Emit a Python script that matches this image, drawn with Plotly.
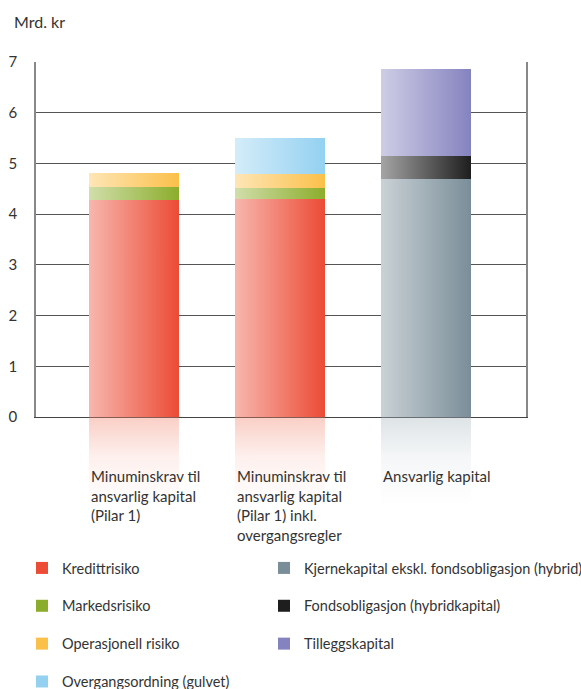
import plotly.graph_objects as go

# ---- data ----
categories = ["Pilar 1", "Pilar 1 inkl. overgangsregler", "Ansvarlig kapital"]
category_labels = [
    "Minuminskrav til<br>ansvarlig kapital<br>(Pilar 1)",
    "Minuminskrav til<br>ansvarlig kapital<br>(Pilar 1) inkl.<br>overgangsregler",
    "Ansvarlig kapital",
]
kredittrisiko = [4.28, 4.29, None]
markedsrisiko = [0.26, 0.23, None]
operasjonell_risiko = [0.27, 0.28, None]
overgangsordning = [None, 0.70, None]
kjernekapital = [None, None, 4.69]
fondsobligasjon = [None, None, 0.46]
tilleggskapital = [None, None, 1.71]
y_ticks = [0, 1, 2, 3, 4, 5, 6, 7]

FONT = "Lato"
TXT = "#333333"
BAR_W = 0.616

# (name, values, right-edge colour of the gradient)
left_series = [
    ("Kredittrisiko", kredittrisiko, "#EC4B35"),
    ("Markedsrisiko", markedsrisiko, "#8CAD2C"),
    ("Operasjonell risiko", operasjonell_risiko, "#FBC04A"),
    ("Overgangsordning (gulvet)", overgangsordning, "#94D1F1"),
]
right_series = [
    ("Kjernekapital ekskl. fondsobligasjon (hybrid)", kjernekapital, "#7A8E99"),
    ("Fondsobligasjon (hybridkapital)", fondsobligasjon, "#1E1E1E"),
    ("Tilleggskapital", tilleggskapital, "#8583BF"),
]
reflection_rgb = ["242,128,105", "242,128,105", "166,181,189"]

x_pos = list(range(len(categories)))

# layout geometry (pixels)
W, H = 581, 689
M_L, M_R, M_T = 36, 55, 62
PLOT_H = 355
REFL_H = 88
M_B = H - M_T - PLOT_H - REFL_H
PAPER_W = W - M_L - M_R
PAPER_H = H - M_T - M_B
split = REFL_H / PAPER_H


def px_x(px):
    return (px - M_L) / PAPER_W


def px_y(px):
    return (H - M_B - px) / PAPER_H


fig = go.Figure()
for legend_name, series in (("legend", left_series), ("legend2", right_series)):
    for name, vals, col in series:
        fig.add_trace(go.Bar(
            x=x_pos, y=vals, name=name, width=BAR_W,
            marker=dict(color=col, line=dict(width=0)),
            legend=legend_name, legendgroup=name,
            hovertext=categories,
        ))

# horizontal light-to-dark shading over each bar (white overlay fading out)
all_series = left_series + right_series
for i in x_pos:
    top = sum(v[i] for _, v, _ in all_series if v[i] is not None)
    x0, x1 = x_pos[i] - BAR_W / 2, x_pos[i] + BAR_W / 2
    fig.add_trace(go.Scatter(
        x=[x0, x1, x1, x0, x0], y=[0, 0, top, top, 0],
        mode="lines", fill="toself", line=dict(width=0, color="rgba(0,0,0,0)"),
        fillgradient=dict(type="horizontal", colorscale=[
            [0, "rgba(255,255,255,0.6)"], [1, "rgba(255,255,255,0)"]]),
        showlegend=False, hoverinfo="skip",
    ))
    # faded reflection below the base line
    fig.add_trace(go.Scatter(
        x=[x0, x1, x1, x0, x0], y=[0, 0, -1, -1, 0], yaxis="y2",
        mode="lines", fill="toself", line=dict(width=0, color="rgba(0,0,0,0)"),
        fillgradient=dict(type="vertical", colorscale=[
            [0, f"rgba({reflection_rgb[i]},0)"],
            [0.55, f"rgba({reflection_rgb[i]},0.12)"],
            [1, f"rgba({reflection_rgb[i]},0.38)"]]),
        showlegend=False, hoverinfo="skip",
    ))

for i, lab in enumerate(category_labels):
    fig.add_annotation(
        x=x_pos[i] - BAR_W / 2, xref="x", xanchor="left",
        y=px_y(465), yref="paper", yanchor="top",
        text=lab, showarrow=False, align="left",
        font=dict(family=FONT, size=15, color=TXT),
    )

fig.add_annotation(
    x=px_x(12), xref="paper", xanchor="left",
    y=px_y(21), yref="paper", yanchor="middle",
    text="Mrd. kr", showarrow=False,
    font=dict(family=FONT, size=16, color=TXT),
)

legend_common = dict(
    orientation="v", traceorder="grouped", tracegroupgap=16,
    font=dict(family=FONT, size=14.5, color=TXT),
    bgcolor="rgba(0,0,0,0)", yanchor="top", xanchor="left",
)

fig.update_layout(
    width=W, height=H,
    margin=dict(l=M_L, r=M_R, t=M_T, b=M_B, autoexpand=False),
    paper_bgcolor="white", plot_bgcolor="white",
    barmode="stack", bargap=0,
    font=dict(family=FONT, size=14, color=TXT),
    legend=dict(x=px_x(22), y=px_y(552), **legend_common),
    legend2=dict(x=px_x(264), y=px_y(552), **legend_common),
    xaxis=dict(
        range=[-0.671, 2.685], showticklabels=False, showgrid=False,
        zeroline=False, showline=True, linecolor="#444444", linewidth=1,
        ticks="",
    ),
    yaxis=dict(
        domain=[split, 1],
        range=[0, 7], tickvals=y_ticks, showgrid=True, gridcolor="#555555",
        gridwidth=1, zeroline=False, showline=True, mirror=True,
        linecolor="#888888", linewidth=1.5, ticks="",
        ticklabelstandoff=14,
        tickfont=dict(family=FONT, size=15, color=TXT),
    ),
    yaxis2=dict(
        domain=[0, split], range=[-1, 0], visible=False, fixedrange=True,
        anchor="x",
    ),
    showlegend=True,
)

fig.write_html("out.html")
